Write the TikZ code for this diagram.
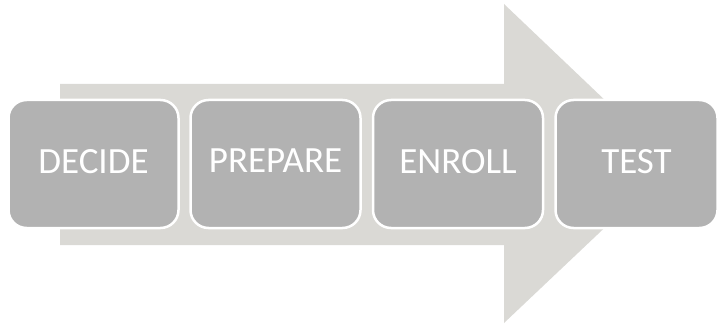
\documentclass[tikz,border=0pt]{standalone}
\usepackage{fontspec}
\setmainfont{Carlito}
\definecolor{arrowgray}{RGB}{218,217,213}
\definecolor{boxgray}{RGB}{178,178,178}
\tikzset{
  stagebox/.style={draw=white, line width=2.5pt, fill=boxgray, rounded corners=18pt,
    minimum width=170pt, minimum height=128pt, text=white, text depth=6pt,
    font=\fontsize{37}{44}\selectfont},
}
\begin{document}
\begin{tikzpicture}[x=1pt, y=-1pt]
    \useasboundingbox (0, 0) rectangle (719, 326);

    \def\shafttop{84}
    \def\shaftbot{245}
    \def\headx{504}
    \fill[arrowgray] (60, \shafttop) -- (\headx, \shafttop) -- (\headx, 4) -- (672, 164)
      -- (\headx, 323) -- (\headx, \shaftbot) -- (60, \shaftbot) -- cycle;

    \node[stagebox] (decide) at (93.5, 164) {DECIDE};
    \node[stagebox] (prepare) at (275.5, 164) {PREPARE};
    \node[stagebox] (enroll) at (458, 164) {ENROLL};
    \node[stagebox, minimum width=162pt] (test) at (636.5, 164) {TEST};
  \end{tikzpicture}
\end{document}
